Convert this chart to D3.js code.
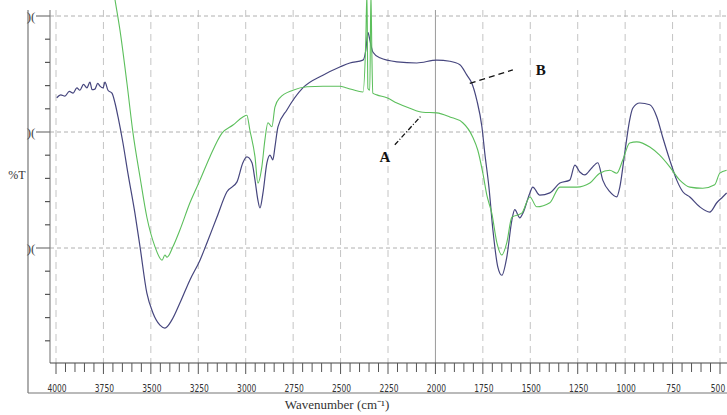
<!DOCTYPE html>
<html><head><meta charset="utf-8">
<script src="https://cdn.jsdelivr.net/npm/d3@7/dist/d3.min.js"></script>
<style>body{margin:0;background:#fff}svg{display:block}</style>
</head><body>
<svg id="c" width="727" height="415"></svg>
<script>
// wavenumber (cm^-1), %T
const seriesB = [
[3996,45.9],[3975,46.4],[3953,46.2],[3930,47.0],[3910,46.7],[3890,47.6],[3874,47.2],[3855,48.2],[3837,47.6],[3821,48.6],[3810,47.3],[3795,47.4],[3780,48.4],[3768,47.9],[3752,47.6],[3742,48.6],[3726,47.2],[3705,46.7],[3689,45.0],[3673,42.6],[3647,38.1],[3621,32.9],[3584,26.0],[3557,20.2],[3521,12.2],[3489,8.8],[3452,6.7],[3426,6.2],[3389,7.6],[3347,10.5],[3294,14.5],[3241,17.9],[3204,20.9],[3152,25.3],[3099,29.7],[3046,31.4],[3015,34.7],[2994,35.7],[2967,34.7],[2951,31.7],[2936,28.3],[2925,26.9],[2909,29.5],[2888,34.7],[2872,36.0],[2857,35.2],[2846,37.4],[2830,40.9],[2783,43.8],[2699,47.6],[2593,49.8],[2504,51.2],[2451,51.9],[2382,52.4],[2367,54.1],[2356,57.2],[2346,55.9],[2330,53.8],[2293,52.8],[2203,52.1],[2098,51.9],[1993,52.4],[1924,52.2],[1871,51.6],[1834,49.8],[1808,48.4],[1782,45.5],[1755,40.9],[1740,36.4],[1718,30.5],[1697,23.1],[1671,16.7],[1650,15.3],[1624,18.4],[1597,24.8],[1582,26.6],[1555,25.2],[1539,26.0],[1502,29.5],[1487,30.5],[1450,29.1],[1397,29.5],[1344,31.2],[1292,31.7],[1265,34.3],[1239,33.1],[1213,32.6],[1176,33.8],[1144,34.7],[1118,31.7],[1081,29.7],[1044,28.8],[1028,30.5],[1002,36.4],[976,42.1],[960,44.1],[923,45.0],[870,44.7],[833,42.6],[802,39.1],[765,35.2],[728,31.7],[696,29.7],[659,28.8],[607,27.1],[554,26.2],[517,27.8],[486,28.8],[465,29.5]
];
const seriesA = [
[3695,64.0],[3689,62.8],[3663,57.6],[3626,48.4],[3594,39.8],[3557,32.2],[3521,25.3],[3478,20.2],[3441,17.9],[3426,18.8],[3415,18.4],[3384,20.2],[3347,23.1],[3294,27.8],[3241,31.7],[3189,35.7],[3125,39.8],[3067,41.2],[3015,42.6],[2994,42.9],[2978,40.3],[2951,35.7],[2936,31.2],[2915,34.0],[2899,38.6],[2883,41.6],[2862,40.9],[2846,44.3],[2820,45.9],[2751,47.2],[2677,47.8],[2593,47.9],[2504,47.9],[2467,47.6],[2382,46.9],[2367,55.9],[2361,64.0],[2356,47.5],[2346,47.2],[2340,64.0],[2335,53.3],[2330,46.7],[2309,46.4],[2256,45.9],[2203,45.0],[2135,44.1],[2066,43.4],[1993,43.3],[1924,42.6],[1856,41.6],[1803,39.1],[1777,36.9],[1750,32.9],[1729,29.1],[1703,26.0],[1676,20.9],[1650,18.8],[1624,20.9],[1597,25.3],[1545,26.0],[1502,28.8],[1466,27.1],[1397,27.8],[1344,30.5],[1255,30.5],[1186,31.2],[1134,32.9],[1081,33.4],[1044,32.9],[1012,35.2],[976,38.1],[939,38.3],[870,37.4],[818,36.0],[765,34.0],[712,31.7],[659,30.5],[591,30.3],[528,30.9],[501,32.9],[465,33.4]
];
const xTickValues = [4000,3750,3500,3250,3000,2750,2500,2250,2000,1750,1500,1250,1000,750,500];
const xTickLabels = ["4000","3750","3500","3250","3000","2750","2500","2250","2000","1750","1500","1250","1000","750","500"];
const yMajorValues = [60,40,20];
const yMajorLabels = [")(",")(",")("];
const annotations = [
  {label:"B", text:[1445,49.8], from:[1819,48.4], to:[1592,50.7], dash:"6,4"},
  {label:"A", text:[2266,34.8], from:[2214,37.8], to:[2072,42.9], dash:"5,2,1,2"}
];

const svg = d3.select("#c");
const x = d3.scaleLinear().domain([4000,500]).range([56,720]);
const y = d3.scaleLinear().domain([0,60]).range([364,16]);
const W = 727;

// outer frame
svg.append("line").attr("x1",28).attr("x2",28).attr("y1",10).attr("y2",393).attr("stroke","#777").attr("stroke-width",1.2);
svg.append("line").attr("x1",28).attr("x2",W).attr("y1",393).attr("y2",393).attr("stroke","#777").attr("stroke-width",1.2);

// vertical grid
const g = svg.append("g");
xTickValues.forEach(v=>{
  g.append("line").attr("x1",x(v)).attr("x2",x(v)).attr("y1",10).attr("y2",363)
   .attr("stroke", v===2000 ? "#9a9a9a" : "#c4c4c4")
   .attr("stroke-width",1)
   .attr("stroke-dasharray", v===2000 ? null : "7,5");
});
// horizontal grid
yMajorValues.forEach(v=>{
  g.append("line").attr("x1",50).attr("x2",W).attr("y1",y(v)).attr("y2",y(v))
   .attr("stroke","#b0b0b0").attr("stroke-width",1).attr("stroke-dasharray","4,3");
});

// inner axes lines
svg.append("line").attr("x1",50).attr("x2",50).attr("y1",10).attr("y2",363).attr("stroke","#888").attr("stroke-width",1.2);
svg.append("line").attr("x1",50).attr("x2",W).attr("y1",363).attr("y2",363).attr("stroke","#444").attr("stroke-width",1.2);

// x ticks
const minorX = d3.range(4000,450,-50).filter(v=>v%250!==0);
minorX.forEach(v=>{
  svg.append("line").attr("x1",x(v)).attr("x2",x(v)).attr("y1",363).attr("y2",372).attr("stroke","#555");
});
xTickValues.forEach((v,i)=>{
  const last = i===xTickValues.length-1;
  const tx = last ? x(v)-2 : x(v)+1;
  svg.append("line").attr("x1",x(v)).attr("x2",x(v)).attr("y1",363).attr("y2",374).attr("stroke","#555");
  svg.append("text").attr("x",tx).attr("y",392).attr("text-anchor","middle")
    .attr("font-family","'Liberation Sans Narrow','DejaVu Sans Condensed',sans-serif")
    .attr("font-size",10.5).attr("fill","#333").attr("transform",`translate(${tx},0) scale(0.8,1) translate(${-tx},0)`)
    .text(xTickLabels[i]);
});

// y ticks
d3.range(0,61,4).forEach(v=>{
  if (v===0) return;
  const major = v%20===0;
  svg.append("line").attr("x1",major?36:45).attr("x2",50).attr("y1",y(v)).attr("y2",y(v))
    .attr("stroke", major?"#777":"#555").attr("stroke-width",1.2);
});
yMajorValues.forEach((v,i)=>{
  svg.append("text").attr("x",31).attr("y",y(v)+4.5).attr("text-anchor","middle")
    .attr("font-family","'Liberation Serif',serif").attr("font-size",13).attr("fill","#444")
    .text(yMajorLabels[i]);
});

// axis titles
svg.append("text").attr("x",17).attr("y",179).attr("text-anchor","middle")
  .attr("font-family","'Liberation Serif',serif").attr("font-size",12).attr("fill","#333").text("%T");
svg.append("text").attr("x",337).attr("y",409).attr("text-anchor","middle")
  .attr("font-family","'Liberation Serif',serif").attr("font-size",13).attr("fill","#333").text("Wavenumber (cm⁻¹)");

// curves
const line = d3.line().x(d=>x(d[0])).y(d=>y(d[1])).curve(d3.curveMonotoneX);
svg.append("path").datum(seriesB.slice().reverse()).attr("d",line).attr("fill","none").attr("stroke","#46467e").attr("stroke-width",1.2);
svg.append("path").datum(seriesA.slice().reverse()).attr("d",line).attr("fill","none").attr("stroke","#5cbf5c").attr("stroke-width",1.1);

// annotations
annotations.forEach(a=>{
  svg.append("line").attr("x1",x(a.from[0])).attr("y1",y(a.from[1])).attr("x2",x(a.to[0])).attr("y2",y(a.to[1]))
    .attr("stroke","#111").attr("stroke-width",1.3).attr("stroke-dasharray",a.dash);
  svg.append("text").attr("x",x(a.text[0])).attr("y",y(a.text[1])).attr("text-anchor","middle")
    .attr("font-family","'Liberation Serif',serif").attr("font-weight","bold").attr("font-size",15).attr("fill","#111")
    .text(a.label);
});
</script>
</body></html>
